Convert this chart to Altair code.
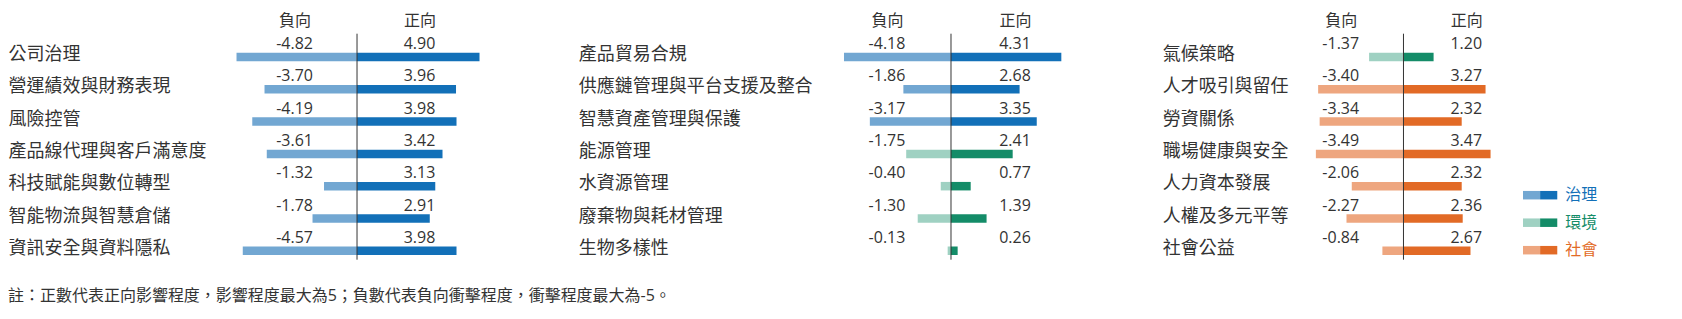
import altair as alt
import pandas as pd

FONT = "Open Sans, Noto Sans CJK TC, sans-serif"
TXT = "#333333"

# ---------------- data ----------------
p1_cats = ["公司治理", "營運績效與財務表現", "風險控管", "產品線代理與客戶滿意度",
           "科技賦能與數位轉型", "智能物流與智慧倉儲", "資訊安全與資料隱私"]
p1_neg = [-4.82, -3.70, -4.19, -3.61, -1.32, -1.78, -4.57]
p1_pos = [4.90, 3.96, 3.98, 3.42, 3.13, 2.91, 3.98]
p1_groups = ["治理"] * 7

p2_cats = ["產品貿易合規", "供應鏈管理與平台支援及整合", "智慧資產管理與保護", "能源管理",
           "水資源管理", "廢棄物與耗材管理", "生物多樣性"]
p2_neg = [-4.18, -1.86, -3.17, -1.75, -0.40, -1.30, -0.13]
p2_pos = [4.31, 2.68, 3.35, 2.41, 0.77, 1.39, 0.26]
p2_groups = ["治理", "治理", "治理", "環境", "環境", "環境", "環境"]

p3_cats = ["氣候策略", "人才吸引與留任", "勞資關係", "職場健康與安全",
           "人力資本發展", "人權及多元平等", "社會公益"]
p3_neg = [-1.37, -3.40, -3.34, -3.49, -2.06, -2.27, -0.84]
p3_pos = [1.20, 3.27, 2.32, 3.47, 2.32, 2.36, 2.67]
p3_groups = ["環境", "社會", "社會", "社會", "社會", "社會", "社會"]

GROUPS = ["治理", "環境", "社會"]
LIGHT = ["#72a7d2", "#9fd1c2", "#eea67f"]
DARK = ["#1270b8", "#148c68", "#e26a26"]
HEADERS = ["負向", "正向"]
NOTE = "註：正數代表正向影響程度，影響程度最大為5；負數代表負向衝擊程度，衝擊程度最大為-5。"

# ---------------- layout ----------------
LABEL_POS = 2.5          # value labels / headers sit at +-2.5 on the value axis
PLOT_H = 226
BAR_H = 8.5
BAR_DY = 7.2
VAL_DY = -5.7
CAT_OFF = 5.3

color_scale = alt.Scale(domain=[g + "-neg" for g in GROUPS] + [g + "-pos" for g in GROUPS],
                        range=LIGHT + DARK)


def panel(cats, neg, pos, groups, zero_px, pxu, right_px, label_left_px):
    n = len(cats)
    df = pd.DataFrame({
        "cat": cats * 2,
        "value": neg + pos,
        "sign": ["neg"] * n + ["pos"] * n,
        "group": groups * 2,
    })
    left_px = zero_px - 5 * pxu
    dmax = (right_px - zero_px) / pxu
    width = right_px - left_px
    xscale = alt.Scale(domain=[-5, dmax], nice=False, zero=False)
    xaxis = alt.Axis(orient="top", values=[-LABEL_POS, LABEL_POS],
                     labelExpr=f"datum.value < 0 ? '{HEADERS[0]}' : '{HEADERS[1]}'",
                     ticks=False, tickSize=0, domain=False, grid=False,
                     labelFontSize=16, labelFont=FONT, labelColor=TXT,
                     labelPadding=12.8, labelBaseline="middle", labelFlush=False,
                     labelOverlap=False, title=None)
    yaxis = alt.Axis(orient="left", labelAlign="left", labelPadding=left_px - label_left_px,
                     ticks=False, tickSize=0, domain=False, grid=False,
                     labelFontSize=18, labelFont=FONT, labelColor=TXT,
                     labelOffset=CAT_OFF, labelLimit=600, labelBaseline="middle", title=None)
    yscale = alt.Scale(paddingInner=0, paddingOuter=0)
    base = alt.Chart(df).transform_calculate(
        key="datum.group + '-' + datum.sign",
        lx=f"datum.value < 0 ? {-LABEL_POS} : {LABEL_POS}",
        txt="replace(format(datum.value, '.2f'), '\u2212', '-')",
    )
    bars = base.mark_bar(size=BAR_H, yOffset=BAR_DY).encode(
        x=alt.X("value:Q", scale=xscale, axis=xaxis),
        x2=alt.X2Datum(0),
        y=alt.Y("cat:N", sort=cats, scale=yscale, axis=yaxis),
        color=alt.Color("key:N", scale=color_scale, legend=None),
    )
    labels = base.mark_text(fontSize=16, font=FONT, color=TXT, dy=VAL_DY,
                            align="center", baseline="middle").encode(
        x=alt.X("lx:Q", scale=xscale, axis=xaxis),
        y=alt.Y("cat:N", sort=cats, scale=yscale, axis=yaxis),
        text="txt:N",
    )
    rule = alt.Chart(df).transform_aggregate(n="count()").mark_rule(
        color=TXT, strokeWidth=1).encode(x=alt.XDatum(0, scale=xscale, axis=xaxis))
    return alt.layer(bars, rule, labels).properties(width=width, height=PLOT_H)


p1 = panel(p1_cats, p1_neg, p1_pos, p1_groups, zero_px=357, pxu=25.0,
           right_px=823, label_left_px=8)
p2 = panel(p2_cats, p2_neg, p2_pos, p2_groups, zero_px=951, pxu=25.6,
           right_px=1277.5, label_left_px=578.3)
p3 = panel(p3_cats, p3_neg, p3_pos, p3_groups, zero_px=1403, pxu=25.1,
           right_px=1521.7, label_left_px=1161.7)

# ---------------- legend panel ----------------
leg = pd.DataFrame({"name": GROUPS})
lx = alt.Scale(domain=[0, 2], nice=False, zero=False)
ly = alt.Y("name:N", sort=GROUPS,
           scale=alt.Scale(range=[147.75, 230.25], paddingInner=0, paddingOuter=0), axis=None)
lbase = alt.Chart(leg)
sw_light = lbase.transform_calculate(key="datum.name + '-neg'").mark_bar(size=BAR_H).encode(
    x=alt.XDatum(0, scale=lx, axis=None), x2=alt.X2Datum(1), y=ly,
    color=alt.Color("key:N", scale=color_scale, legend=None))
sw_dark = lbase.transform_calculate(key="datum.name + '-pos'").mark_bar(size=BAR_H).encode(
    x=alt.XDatum(1, scale=lx, axis=None), x2=alt.X2Datum(2), y=ly,
    color=alt.Color("key:N", scale=color_scale, legend=None))
sw_text = lbase.transform_calculate(key="datum.name + '-pos'").mark_text(
    align="left", baseline="middle", dx=8, fontSize=16, font=FONT).encode(
    x=alt.XDatum(2, scale=lx, axis=None), y=ly, text="name:N",
    color=alt.Color("key:N", scale=color_scale, legend=None))
legend = alt.layer(sw_light, sw_dark, sw_text).properties(width=34.3, height=PLOT_H)

chart = alt.hconcat(p1, p2, p3, legend, spacing=0, bounds="flush").properties(
    padding={"left": 8, "top": 12.7, "right": 5, "bottom": 5},
    title=alt.TitleParams(text=NOTE, orient="bottom", anchor="start", fontSize=16,
                          font=FONT, color=TXT, fontWeight="normal", baseline="top",
                          offset=28, frame="bounds"),
).configure(font=FONT).configure_view(stroke=None)

chart.save("out.html", embed_options={"renderer": "svg", "actions": False})
